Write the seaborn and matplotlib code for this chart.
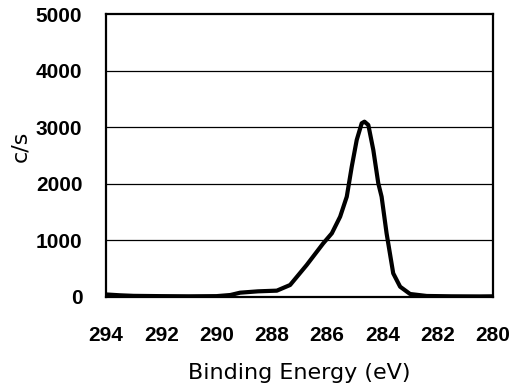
import numpy as np
import pandas as pd
import matplotlib
matplotlib.use("Agg")
import matplotlib.pyplot as plt
import seaborn as sns

# C1s spectrum
binding_energy = [294.0, 293.5, 293.0, 292.0, 291.0, 290.0, 289.5, 289.15, 288.5,
                  287.82, 287.34, 286.74, 286.14, 285.83, 285.53, 285.29, 285.11,
                  284.93, 284.75, 284.65, 284.51, 284.33, 284.15, 284.03, 283.85,
                  283.61, 283.36, 283.0, 282.4, 281.5, 280.5, 280.0]
counts = [45, 30, 20, 15, 12, 15, 35, 76, 100,
          112, 212, 566, 950, 1127, 1421, 1775, 2306,
          2779, 3074, 3103, 3044, 2602, 2012, 1775, 1127,
          419, 182, 53, 18, 12, 10, 12]
x_ticks = [294, 292, 290, 288, 286, 284, 282, 280]
y_ticks = [0, 1000, 2000, 3000, 4000, 5000]

df = pd.DataFrame({"Binding Energy (eV)": binding_energy, "c/s": counts})

sns.set_style("white")
plt.rcParams["font.family"] = ["Liberation Sans", "DejaVu Sans"]
plt.rcParams["text.color"] = "black"
plt.rcParams["axes.labelcolor"] = "black"
plt.rcParams["xtick.color"] = "black"
plt.rcParams["ytick.color"] = "black"

fig = plt.figure(figsize=(5.17, 3.87), dpi=100)
ax = fig.add_axes([0.205, 0.2326, 0.7486, 0.73])

sns.lineplot(data=df, x="Binding Energy (eV)", y="c/s", color="black",
             linewidth=3.0, ax=ax, sort=False)

ax.set_xlim(294, 280)
ax.set_ylim(0, 5000)
ax.set_xticks(x_ticks)
ax.set_yticks(y_ticks)
ax.set_xticklabels([str(t) for t in x_ticks], fontsize=15, fontweight="bold")
ax.set_yticklabels([str(t) for t in y_ticks], fontsize=15, fontweight="bold")
ax.tick_params(axis="x", direction="in", length=3, pad=21, labelcolor="black")
ax.tick_params(axis="y", length=0, pad=17, labelcolor="black")

for v in y_ticks[1:-1]:
    ax.axhline(v, color="black", linewidth=0.9, zorder=0)

for side in ["left", "right", "top", "bottom"]:
    ax.spines[side].set_color("black")
    ax.spines[side].set_linewidth(1.6)

ax.set_xlabel("Binding Energy (eV)", fontsize=16, family="DejaVu Sans", color="black")
ax.set_ylabel("c/s", fontsize=16, family="DejaVu Sans", color="black")
ax.xaxis.set_label_coords(0.5, -0.235)
ax.yaxis.set_label_coords(-0.195, 0.535)

fig.savefig("out.png", dpi=100)
